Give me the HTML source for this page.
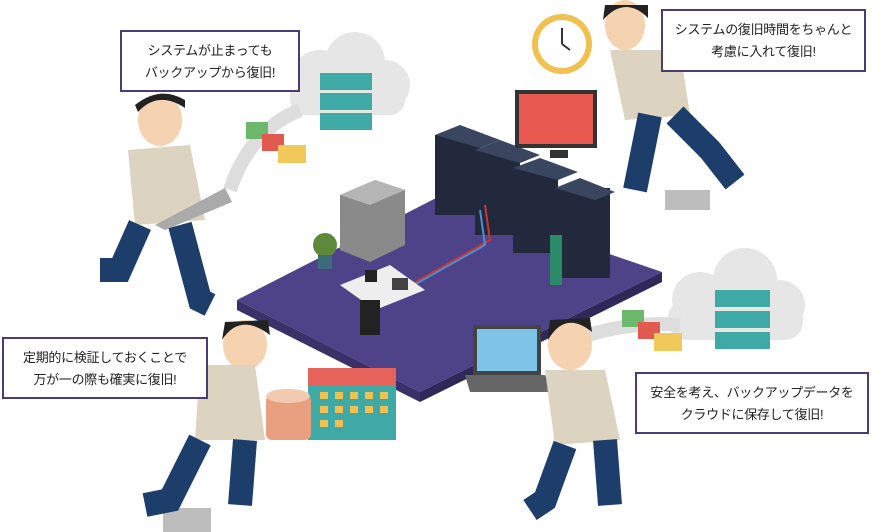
<!DOCTYPE html>
<html><head><meta charset="utf-8"><style>
html,body{margin:0;padding:0;background:#fff;}
.wrap{position:relative;width:880px;height:532px;overflow:hidden;font-family:"Liberation Sans","Noto Sans CJK JP",sans-serif;}
.box{position:absolute;background:#fff;border:2px solid #4a3c78;box-sizing:border-box;font-size:13px;line-height:22px;color:#222;padding:8px 0 0 0;text-align:center;white-space:nowrap;letter-spacing:-0.3px;}
svg{position:absolute;left:0;top:0;}
</style></head><body><div class="wrap">
<svg width="880" height="532" viewBox="0 0 880 532">
<g fill="#e6e6e6">
<circle cx="320" cy="80" r="30"/><circle cx="355" cy="62" r="30"/><circle cx="385" cy="85" r="25"/><rect x="290" y="80" width="115" height="35" rx="15"/>
<circle cx="700" cy="300" r="28"/><circle cx="745" cy="280" r="32"/><circle cx="780" cy="305" r="25"/><rect x="668" y="300" width="135" height="40" rx="18"/>
</g>
<path d="M300 110 Q250 130 230 190" stroke="#ddd" stroke-width="14" fill="none"/>
<path d="M680 325 Q620 320 560 345" stroke="#ddd" stroke-width="14" fill="none"/>
<g fill="#3fa9a6"><rect x="320" y="73" width="52" height="17"/><rect x="320" y="93" width="52" height="17"/><rect x="320" y="113" width="52" height="17"/>
<rect x="715" y="290" width="55" height="17"/><rect x="715" y="311" width="55" height="17"/><rect x="715" y="332" width="55" height="17"/></g>
<rect x="246" y="122" width="22" height="17" fill="#6cb86c"/><rect x="262" y="134" width="22" height="17" fill="#e05a4f"/><rect x="278" y="145" width="28" height="18" fill="#f0c95a"/>
<rect x="622" y="310" width="22" height="17" fill="#6cb86c"/><rect x="638" y="322" width="22" height="17" fill="#e05a4f"/><rect x="654" y="333" width="28" height="18" fill="#f0c95a"/>
<polygon points="237,300 440,196 662,272 420,392" fill="#4e4388"/>
<polygon points="237,300 420,392 420,402 237,310" fill="#3a3168"/>
<polygon points="420,392 662,272 662,282 420,402" fill="#2f2858"/>
<polygon points="340,195 375,180 405,190 405,245 370,262 340,250" fill="#8a8a8a"/>
<polygon points="340,195 375,180 405,190 370,205" fill="#b5b5b5"/>
<g fill="#23293d">
<rect x="435" y="135" width="45" height="80"/><rect x="475" y="150" width="45" height="85"/><rect x="513" y="168" width="45" height="85"/><rect x="555" y="188" width="55" height="90"/>
</g>
<g fill="#3a4560"><polygon points="435,135 460,125 500,140 480,148"/><polygon points="475,150 500,140 540,155 520,163"/><polygon points="513,168 540,158 578,172 558,180"/><polygon points="555,188 580,178 615,192 595,200"/></g>
<path d="M485 205 L490 240 L410 285" stroke="#c33" stroke-width="2" fill="none"/><path d="M480 210 L485 245 L405 290" stroke="#4a8fd0" stroke-width="2" fill="none"/>
<polygon points="340,285 390,265 425,290 375,310" fill="#eee"/>
<rect x="365" y="270" width="12" height="12" fill="#222"/><rect x="392" y="278" width="16" height="12" fill="#444"/>
<rect x="360" y="300" width="20" height="35" fill="#222"/>
<circle cx="325" cy="245" r="12" fill="#5d8a3a"/><rect x="318" y="255" width="14" height="14" fill="#3c6b7a"/>
<rect x="550" y="235" width="12" height="50" fill="#2a8a6a"/>
<circle cx="562" cy="44" r="30" fill="#f0c050"/><circle cx="562" cy="44" r="24" fill="#fff"/><path d="M562 44 L562 28 M562 44 L570 50" stroke="#333" stroke-width="2"/>
<rect x="515" y="90" width="82" height="58" fill="#333"/><rect x="519" y="94" width="74" height="50" fill="#e85a50"/><rect x="550" y="150" width="18" height="8" fill="#333"/>
<rect x="665" y="190" width="45" height="20" fill="#bdbdbd"/><rect x="163" y="508" width="48" height="24" fill="#bdbdbd"/>
<rect x="308" y="368" width="88" height="72" fill="#3fa9a6"/><rect x="308" y="368" width="88" height="18" fill="#e5635b"/>
<g fill="#f0c050"><rect x="320" y="392" width="8" height="7"/><rect x="335" y="392" width="8" height="7"/><rect x="350" y="392" width="8" height="7"/><rect x="365" y="392" width="8" height="7"/><rect x="380" y="392" width="8" height="7"/><rect x="320" y="406" width="8" height="7"/><rect x="335" y="406" width="8" height="7"/><rect x="350" y="406" width="8" height="7"/><rect x="365" y="406" width="8" height="7"/><rect x="380" y="406" width="8" height="7"/><rect x="320" y="420" width="8" height="7"/><rect x="335" y="420" width="8" height="7"/></g>
<rect x="266" y="395" width="45" height="45" rx="6" fill="#e8a080"/><ellipse cx="288" cy="396" rx="22" ry="7" fill="#f3c9b0"/>
<rect x="473" y="325" width="68" height="50" fill="#444"/><rect x="477" y="329" width="60" height="42" fill="#7ec3e8"/><polygon points="465,375 545,375 555,392 470,392" fill="#666"/>
<g>
<ellipse cx="160" cy="120" rx="22" ry="26" fill="#f5d2b0"/><path d="M138 112 Q158 90 185 108 L185 100 Q160 85 135 105Z" fill="#222"/>
<polygon points="128,150 190,145 205,220 135,225" fill="#dcd3c0"/>
<path d="M140 225 L120 270 L100 270 M180 225 L200 300 L210 305" stroke="#1d3d6b" stroke-width="24" fill="none"/>
<polygon points="155,225 225,188 232,202 165,230" fill="#aaa"/>
<ellipse cx="625" cy="25" rx="20" ry="25" fill="#f5d2b0"/><path d="M603 20 Q625 -5 648 18 L648 5 L605 5Z" fill="#222"/>
<polygon points="610,50 680,50 690,115 625,120" fill="#dcd3c0"/>
<path d="M650 115 L635 190 M675 115 L710 150 L735 182" stroke="#1d3d6b" stroke-width="24" fill="none"/>
<ellipse cx="245" cy="345" rx="22" ry="25" fill="#f5d2b0"/><path d="M222 340 Q240 312 270 335 L268 320 L225 322Z" fill="#222"/>
<polygon points="200,365 255,365 265,440 195,440" fill="#dcd3c0"/>
<path d="M200 440 L170 500 L145 505 M245 440 L240 505" stroke="#1d3d6b" stroke-width="24" fill="none"/>
<ellipse cx="570" cy="345" rx="22" ry="25" fill="#f5d2b0"/><path d="M548 340 Q565 310 592 332 L590 318 L550 320Z" fill="#222"/>
<polygon points="545,370 605,370 620,440 555,445" fill="#dcd3c0"/>
<path d="M565 445 L545 500 L530 510 M605 440 L610 505" stroke="#1d3d6b" stroke-width="24" fill="none"/>
</g>
</svg>
<div class="box" style="left:120px;top:30px;width:180px;height:62px;">システムが止まっても<br>バックアップから復旧!</div>
<div class="box" style="left:661px;top:9px;width:205px;height:63px;">システムの復旧時間をちゃんと<br>考慮に入れて復旧!</div>
<div class="box" style="left:2px;top:337px;width:206px;height:62px;">定期的に検証しておくことで<br>万が一の際も確実に復旧!</div>
<div class="box" style="left:635px;top:372px;width:234px;height:62px;">安全を考え、バックアップデータを<br>クラウドに保存して復旧!</div>
</div></body></html>
